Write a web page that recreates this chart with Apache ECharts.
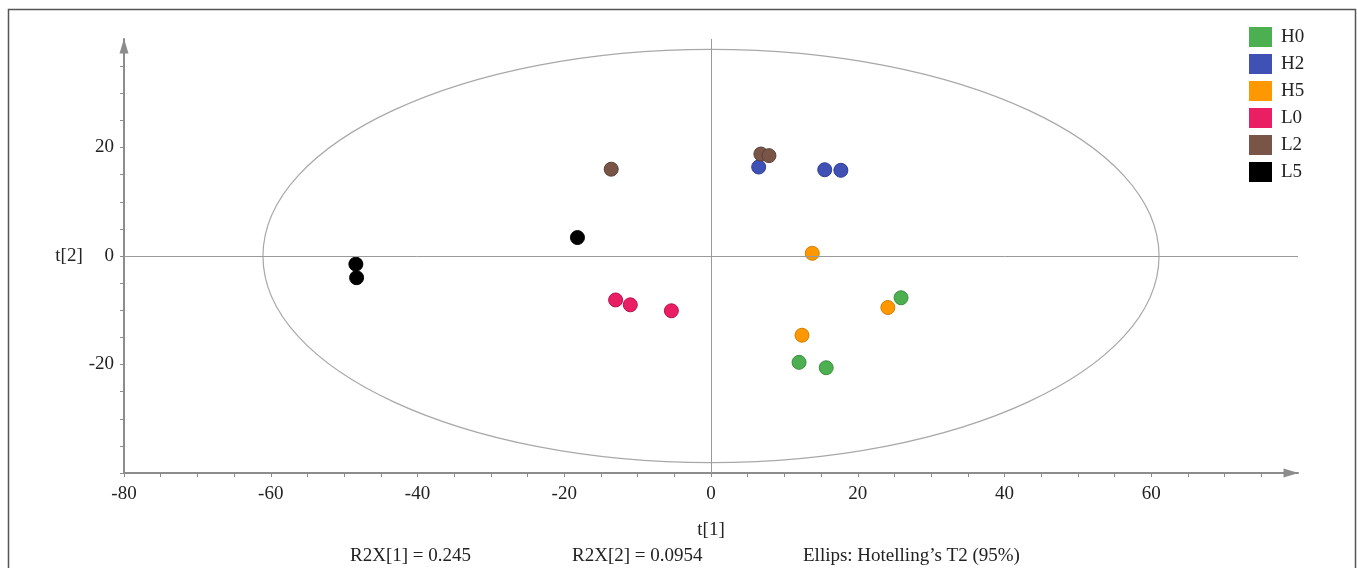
<!DOCTYPE html>
<html>
<head>
<meta charset="UTF-8">
<title>PCA score plot</title>
<script src="https://cdn.jsdelivr.net/npm/echarts@6/dist/echarts.min.js"></script>
<style>
  html, body { margin: 0; padding: 0; background: #fff; }
  #main { width: 1357px; height: 568px; }
</style>
</head>
<body>
<div id="main"></div>
<script type="text/javascript">
	// group scores [t1, t2]
	var groupNames = [ 'H0', 'H2', 'H5', 'L0', 'L2', 'L5' ];
	var H0 = [ [ 25.9, -7.7 ], [ 12.0, -19.6 ], [ 15.7, -20.6 ] ];
	var H2 = [ [ 6.5, 16.4 ], [ 15.5, 15.9 ], [ 17.7, 15.8 ] ];
	var H5 = [ [ 13.8, 0.5 ], [ 24.1, -9.5 ], [ 12.4, -14.6 ] ];
	var L0 = [ [ -13.0, -8.1 ], [ -11.0, -9.0 ], [ -5.4, -10.1 ] ];
	var L2 = [ [ -13.6, 16.0 ], [ 6.8, 18.8 ], [ 7.9, 18.5 ] ];
	var L5 = [ [ -48.4, -1.5 ], [ -48.3, -4.0 ], [ -18.2, 3.4 ] ];
	var groupData = [ H0, H2, H5, L0, L2, L5 ];

	// Hotelling T2 ellipse: centre x, centre y, half-width, half-height
	var ellipse = [ [ 0, 0, 61.06, 38.1 ] ];

	var xTicks = [ -80, -75, -70, -65, -60, -55, -50, -45, -40, -35, -30, -25,
			-20, -15, -10, -5, 0, 5, 10, 15, 20, 25, 30, 35, 40, 45, 50, 55,
			60, 65, 70, 75 ];
	var xLabels = [ -80, -60, -40, -20, 0, 20, 40, 60 ];
	var yTicks = [ -40, -35, -30, -25, -20, -15, -10, -5, 0, 5, 10, 15, 20,
			25, 30, 35 ];
	var yLabels = [ -20, 0, 20 ];

	var footNotes = [ 'R2X[1] = 0.245', 'R2X[2] = 0.0954',
			'Ellips: Hotelling\u2019s T2 (95%)' ];

	var colors = [ '#4caf50', '#3f51b5', '#ff9800', '#e91e63', '#795548', '#000000' ];
	var borders = [ '#3b8e3f', '#2e3d96', '#d27f00', '#b8124a', '#5b3f35', '#000000' ];

	var serif = '"Liberation Serif", "DejaVu Serif", serif';
	var axisGrey = '#8c8c8c';

	var chart = echarts.init(document.getElementById('main'));

	var series = [];
	series.push({
		name : 'ellipse',
		type : 'custom',
		silent : true,
		z : 1,
		data : ellipse,
		encode : {
			x : 0,
			y : 1
		},
		renderItem : function(params, api) {
			var c = api.coord([ api.value(0), api.value(1) ]);
			var s = api.size([ api.value(2), api.value(3) ]);
			return {
				type : 'ellipse',
				shape : {
					cx : c[0],
					cy : c[1],
					rx : s[0],
					ry : s[1]
				},
				style : {
					fill : 'none',
					stroke : '#a8a8a8',
					lineWidth : 1.2
				}
			};
		},
		markLine : {
			silent : true,
			symbol : 'none',
			label : {
				show : false
			},
			lineStyle : {
				color : '#9a9a9a',
				width : 1,
				type : 'solid'
			},
			data : [ {
				xAxis : 0
			}, {
				yAxis : 0
			} ]
		}
	});
	for (var i = 0; i < groupNames.length; i++) {
		series.push({
			name : groupNames[i],
			type : 'scatter',
			z : 3,
			symbol : 'circle',
			symbolSize : 14,
			itemStyle : {
				color : colors[i],
				borderColor : borders[i],
				borderWidth : 1,
				opacity : 1
			},
			data : groupData[i]
		});
	}

	chart.setOption({
		animation : false,
		textStyle : {
			fontFamily : serif
		},
		graphic : [ {
			type : 'rect',
			silent : true,
			shape : {
				x : 8.5,
				y : 9.5,
				width : 1347,
				height : 600
			},
			style : {
				fill : 'none',
				stroke : '#555',
				lineWidth : 1.5
			}
		}, {
			type : 'text',
			left : 350,
			top : 547,
			style : {
				text : footNotes[0],
				font : '19px ' + serif,
				fill : '#222'
			}
		}, {
			type : 'text',
			left : 572,
			top : 547,
			style : {
				text : footNotes[1],
				font : '19px ' + serif,
				fill : '#222'
			}
		}, {
			type : 'text',
			left : 803,
			top : 547,
			style : {
				text : footNotes[2],
				font : '19px ' + serif,
				fill : '#222'
			}
		} ],
		legend : {
			orient : 'vertical',
			left : 1249,
			top : 27,
			padding : 0,
			itemWidth : 23,
			itemHeight : 20,
			itemGap : 7,
			icon : 'rect',
			data : groupNames,
			itemStyle : {
				borderWidth : 0
			},
			textStyle : {
				fontFamily : serif,
				fontSize : 19,
				lineHeight : 20,
				color : '#222',
				padding : [ 0, 0, 0, 4 ]
			}
		},
		grid : {
			left : 124,
			right : 59,
			top : 39,
			bottom : 95,
			containLabel : false
		},
		xAxis : {
			type : 'value',
			min : -80,
			max : 80,
			name : 't[1]',
			nameLocation : 'middle',
			nameGap : 48,
			nameTextStyle : {
				fontFamily : serif,
				fontSize : 19,
				color : '#222'
			},
			splitLine : {
				show : false
			},
			axisLine : {
				onZero : false,
				symbol : [ 'none', 'triangle' ],
				symbolSize : [ 9, 15 ],
				symbolOffset : [ 0, -7 ],
				lineStyle : {
					color : axisGrey,
					width : 2
				}
			},
			axisTick : {
				customValues : xTicks,
				length : 4,
				lineStyle : {
					color : axisGrey,
					width : 1
				}
			},
			axisLabel : {
				customValues : xLabels,
				margin : 12,
				fontFamily : serif,
				fontSize : 19,
				color : '#222'
			}
		},
		yAxis : {
			type : 'value',
			min : -40,
			max : 40,
			name : 't[2]',
			nameLocation : 'middle',
			nameRotate : 0,
			nameGap : 39,
			nameTextStyle : {
				fontFamily : serif,
				fontSize : 19,
				color : '#222'
			},
			splitLine : {
				show : false
			},
			axisLine : {
				onZero : false,
				symbol : [ 'none', 'triangle' ],
				symbolSize : [ 9, 15 ],
				symbolOffset : [ 0, -7 ],
				lineStyle : {
					color : axisGrey,
					width : 2
				}
			},
			axisTick : {
				customValues : yTicks,
				length : 4,
				lineStyle : {
					color : axisGrey,
					width : 1
				}
			},
			axisLabel : {
				customValues : yLabels,
				margin : 10,
				fontFamily : serif,
				fontSize : 19,
				color : '#222'
			}
		},
		series : series
	});
</script>
</body>
</html>
